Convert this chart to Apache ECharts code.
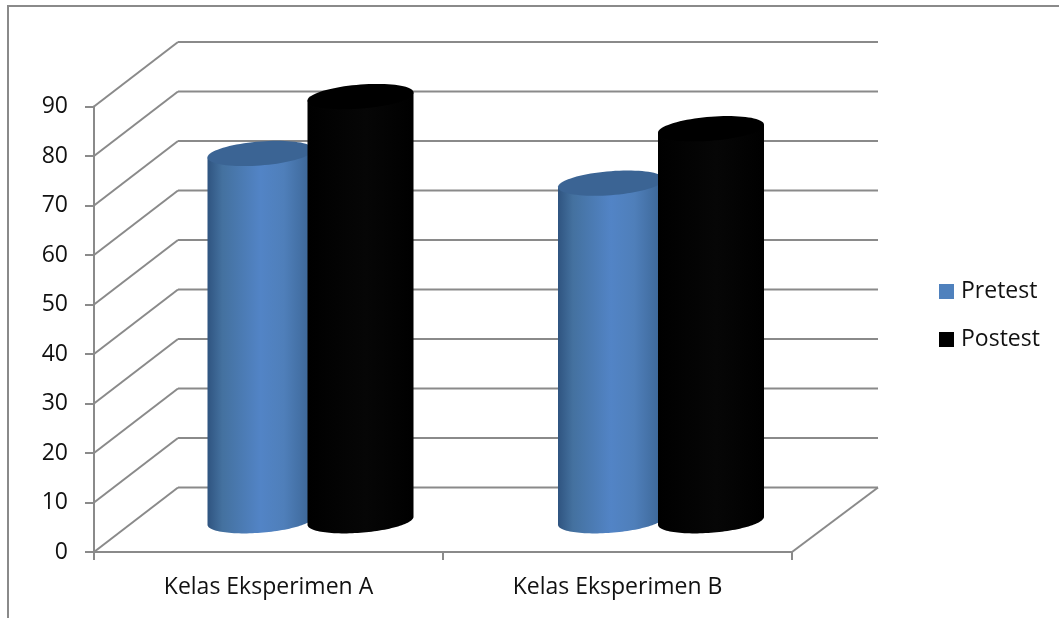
<!DOCTYPE html>
<html>
<head>
<meta charset="utf-8">
<style>html,body{margin:0;padding:0;background:#fff}#chart{width:1059px;height:618px}</style>
<script src="https://cdn.jsdelivr.net/npm/echarts@6/dist/echarts.min.js"></script>
</head>
<body>
<div id="chart"></div>
<script>
// Pretest and postest scores per experiment class
const categories = ['Kelas Eksperimen A', 'Kelas Eksperimen B'];
const pretest = [74, 68];
const postest = [85.5, 79];
const yTicks = [0, 10, 20, 30, 40, 50, 60, 70, 80, 90];

// Oblique projection of the chart box
const DEPTH_X = 84, DEPTH_Y = -64.5;
const RADIUS = 53, BAR_SHIFT = 50, SHEAR = 4, MINOR = 12, GROUP_DRIFT = 1.5;
const LINE = '#8a8a8a';
const FONT = '"Open Sans", "Noto Sans", sans-serif';

function ellipseArc(cx, cy, from, to, steps) {
  const pts = [];
  for (let i = 0; i <= steps; i++) {
    const t = from + (to - from) * i / steps;
    pts.push([cx + RADIUS * Math.cos(t), cy - SHEAR * Math.cos(t) + MINOR * Math.sin(t)]);
  }
  return pts;
}

function wallsItem(params, api) {
  const v = api.value(1);
  const rect = params.coordSys;
  const y = api.coord([0, v])[1];
  const left = rect.x, right = rect.x + rect.width;
  const style = { stroke: LINE, lineWidth: 2, fill: null };
  const kids = [
    { type: 'line', shape: { x1: left, y1: y, x2: left + DEPTH_X, y2: y + DEPTH_Y }, style },
    { type: 'line', shape: { x1: left + DEPTH_X, y1: y + DEPTH_Y, x2: right + DEPTH_X + 2, y2: y + DEPTH_Y }, style }
  ];
  if (v === 0) {
    kids.push({ type: 'line', shape: { x1: right, y1: y, x2: right + DEPTH_X + 2, y2: y + DEPTH_Y }, style });
  }
  return { type: 'group', children: kids };
}

function cylinderItem(shift, sideFill, topFill) {
  return function (params, api) {
    const top = api.coord([api.value(0), api.value(1)]);
    const base = api.coord([api.value(0), 0]);
    const cx = top[0] + DEPTH_X / 2 + shift + api.value(0) * GROUP_DRIFT;
    const topY = top[1] + DEPTH_Y / 2;
    const baseY = base[1] + DEPTH_Y / 2 + 1;
    const body = [[cx - RADIUS, topY + SHEAR]]
      .concat(ellipseArc(cx, baseY, Math.PI, 0, 60))
      .concat([[cx + RADIUS, topY - SHEAR]]);
    return {
      type: 'group',
      children: [
        { type: 'polygon', shape: { points: body }, style: { fill: sideFill } },
        { type: 'polygon', shape: { points: ellipseArc(cx, topY, 0, Math.PI * 2, 80) }, style: { fill: topFill } }
      ]
    };
  };
}

const gradient = (stops) => ({
  type: 'linear', x: 0, y: 0, x2: 1, y2: 0,
  colorStops: stops.map(([offset, color]) => ({ offset, color }))
});

const blueSide = gradient([[0, '#2f5480'], [0.14, '#44719f'], [0.5, '#5284c6'], [0.72, '#4f7fba'], [0.94, '#3f6a9c'], [1, '#375d8c']]);
const blackSide = gradient([[0, '#000000'], [0.55, '#060606'], [1, '#000000']]);

const chart = echarts.init(document.getElementById('chart'), null, { renderer: 'canvas' });
chart.setOption({
  animation: false,
  backgroundColor: '#ffffff',
  grid: { left: 94, right: 267, top: 106.5, bottom: 66, containLabel: false },
  graphic: [
    { type: 'polyline', silent: true, shape: { points: [[8, 618], [8, 6], [1059, 6]] }, style: { stroke: LINE, lineWidth: 2, fill: null } }
  ],
  legend: {
    left: 939, top: 280,
    padding: 0,
    orient: 'vertical',
    icon: 'rect',
    itemWidth: 15, itemHeight: 15, itemGap: 25,
    data: ['Pretest', 'Postest'],
    textStyle: { fontFamily: FONT, fontSize: 23, color: '#111', padding: [0, 0, 0, 2] }
  },
  xAxis: {
    type: 'category',
    data: categories,
    axisLine: { lineStyle: { color: LINE, width: 2 } },
    axisTick: { show: true, length: 8, lineStyle: { color: LINE, width: 2 } },
    axisLabel: { fontFamily: FONT, fontSize: 23, color: '#111', margin: 24 },
    splitLine: { show: false }
  },
  yAxis: {
    type: 'value',
    min: 0, max: 90, interval: 10,
    axisLine: { show: true, lineStyle: { color: LINE, width: 2 } },
    axisTick: { show: true, length: 9, lineStyle: { color: LINE, width: 2 } },
    axisLabel: { fontFamily: FONT, fontSize: 23, color: '#111', margin: 26, padding: [10, 0, 0, 0] },
    splitLine: { show: false }
  },
  series: [
    {
      type: 'custom', name: 'walls', silent: true, z: 1,
      renderItem: wallsItem,
      data: yTicks.map(v => [0, v])
    },
    {
      type: 'custom', name: 'Pretest', z: 2,
      itemStyle: { color: '#4f81bd' },
      renderItem: cylinderItem(-BAR_SHIFT, blueSide, '#3b6494'),
      data: pretest.map((v, i) => [i, v])
    },
    {
      type: 'custom', name: 'Postest', z: 3,
      itemStyle: { color: '#000000' },
      renderItem: cylinderItem(BAR_SHIFT, blackSide, '#000000'),
      data: postest.map((v, i) => [i, v])
    }
  ]
});
</script>
</body>
</html>
